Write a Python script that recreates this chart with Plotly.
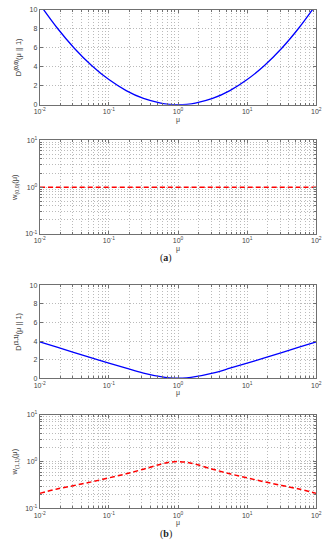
import plotly.graph_objects as go

# log10(mu) sample positions
log_mu = [-2.0, -1.75, -1.5, -1.25, -1.0, -0.75, -0.5, -0.25, -0.125, 0.0,
          0.125, 0.25, 0.5, 0.75, 1.0, 1.25, 1.5, 1.75, 2.0]
mu = [10 ** v for v in log_mu]

# panel (a) top: D^(0,0)(mu||1)
d00 = [10.6, 8.12, 5.96, 4.14, 2.65, 1.49, 0.66, 0.17, 0.04, 0.0,
       0.04, 0.17, 0.66, 1.49, 2.65, 4.14, 5.96, 8.12, 10.6]
# panel (a) bottom: w_(0,0)(mu)
w00 = [1.0] * len(log_mu)
# panel (b) top: D^(1,1)(mu||1)
d11 = [3.91, 3.34, 2.76, 2.19, 1.62, 1.07, 0.55, 0.16, 0.04, 0.0,
       0.04, 0.16, 0.55, 1.07, 1.62, 2.19, 2.76, 3.34, 3.91]
# panel (b) bottom: w_(1,1)(mu)
w11 = [0.21, 0.26, 0.31, 0.37, 0.45, 0.55, 0.69, 0.88, 0.97, 1.0,
       0.97, 0.88, 0.69, 0.55, 0.45, 0.37, 0.31, 0.26, 0.21]

x_tickvals = [0.01, 0.1, 1, 10, 100]
x_ticktext = ["10<sup>-2</sup>", "10<sup>-1</sup>", "10<sup>0</sup>", "10<sup>1</sup>", "10<sup>2</sup>"]
y_log_tickvals = [0.1, 1, 10]
y_log_ticktext = ["10<sup>-1</sup>", "10<sup>0</sup>", "10<sup>1</sup>"]
y_lin_tickvals = [0, 2, 4, 6, 8, 10]

W, H = 331, 550
x0, x1 = 35 / W, 322 / W
panels = [(6, 102), (138, 233), (285, 379), (416, 511)]

FONT = "Liberation Sans, Arial, sans-serif"
GRID = "#bababa"
GDASH = "1px,2px"
FRAME = "#707070"
TXT = "#444444"
TICKF = dict(family=FONT, size=7, color=TXT)

fig = go.Figure()
series = [
    (d00, dict(color="#0000FF", width=1.3), "lin"),
    (w00, dict(color="#FF0000", width=1.5, dash="5px,3px"), "log"),
    (d11, dict(color="#0000FF", width=1.3), "lin"),
    (w11, dict(color="#FF0000", width=1.5, dash="5px,3px"), "log"),
]
ytitles = [
    "D<sup><b>(0,0)</b></sup>(μ || 1)",
    "w<sub>(0,0)</sub>(μ)",
    "D<sup><b>(1,1)</b></sup>(μ || 1)",
    "w<sub>(1,1)</sub>(μ)",
]

layout = dict(
    width=W, height=H, margin=dict(l=0, r=0, t=0, b=0),
    paper_bgcolor="white", plot_bgcolor="white", showlegend=False,
    font=dict(family=FONT, size=7, color=TXT),
)

for i, (ys, line, kind) in enumerate(series):
    n = i + 1
    xa = "x" if n == 1 else f"x{n}"
    ya = "y" if n == 1 else f"y{n}"
    fig.add_trace(go.Scatter(x=mu, y=ys, mode="lines", line=dict(shape="spline", smoothing=1.0, **line),
                             xaxis=xa, yaxis=ya, hoverinfo="skip"))
    top, bot = panels[i]
    dom = [1 - bot / H, 1 - top / H]
    xkey = "xaxis" if n == 1 else f"xaxis{n}"
    ykey = "yaxis" if n == 1 else f"yaxis{n}"
    layout[xkey] = dict(
        type="log", range=[-2, 2], domain=[x0, x1], anchor=ya,
        tickvals=x_tickvals, ticktext=x_ticktext, tickfont=TICKF,
        ticklabeloverflow="allow",
        ticks="inside", ticklen=3, tickcolor=FRAME,
        showline=True, linecolor=FRAME, linewidth=1, mirror="ticks",
        showgrid=True, gridcolor=GRID, griddash=GDASH, gridwidth=0.7,
        minor=dict(dtick="D1", showgrid=True, gridcolor=GRID, griddash=GDASH, gridwidth=0.7,
                   ticks="inside", ticklen=2, tickcolor=FRAME),
        zeroline=False,
        title=dict(text="μ", font=dict(family=FONT, size=7, color=TXT), standoff=2),
    )
    ya_d = dict(
        domain=dom, anchor=xa, tickfont=TICKF,
        ticks="inside", ticklen=3, tickcolor=FRAME,
        showline=True, linecolor=FRAME, linewidth=1, mirror="ticks",
        showgrid=True, gridcolor=GRID, griddash=GDASH, gridwidth=0.7,
        zeroline=False,
        title=dict(text=ytitles[i], font=dict(family=FONT, size=7.5, color=TXT), standoff=6),
    )
    if kind == "lin":
        ya_d.update(type="linear", range=[0, 10], tickvals=y_lin_tickvals)
    else:
        ya_d.update(type="log", range=[-1, 1], tickvals=y_log_tickvals, ticktext=y_log_ticktext,
                    minor=dict(dtick="D1", showgrid=True, gridcolor=GRID, griddash=GDASH, gridwidth=0.7,
                               ticks="inside", ticklen=2, tickcolor=FRAME))
    layout[ykey] = ya_d

layout["annotations"] = [
    dict(text="(<b>a</b>)", x=0.5, y=1 - 257 / H, xref="paper", yref="paper", showarrow=False,
         xanchor="center", yanchor="middle",
         font=dict(family="Liberation Serif, Times New Roman, serif", size=10, color="#222222")),
    dict(text="(<b>b</b>)", x=0.5, y=1 - 537 / H, xref="paper", yref="paper", showarrow=False,
         xanchor="center", yanchor="middle",
         font=dict(family="Liberation Serif, Times New Roman, serif", size=10, color="#222222")),
]

fig.update_layout(**layout)
fig.write_html("out.html", config={"displayModeBar": False},
               post_script="document.body.style.margin='0';document.body.style.overflow='hidden';")
